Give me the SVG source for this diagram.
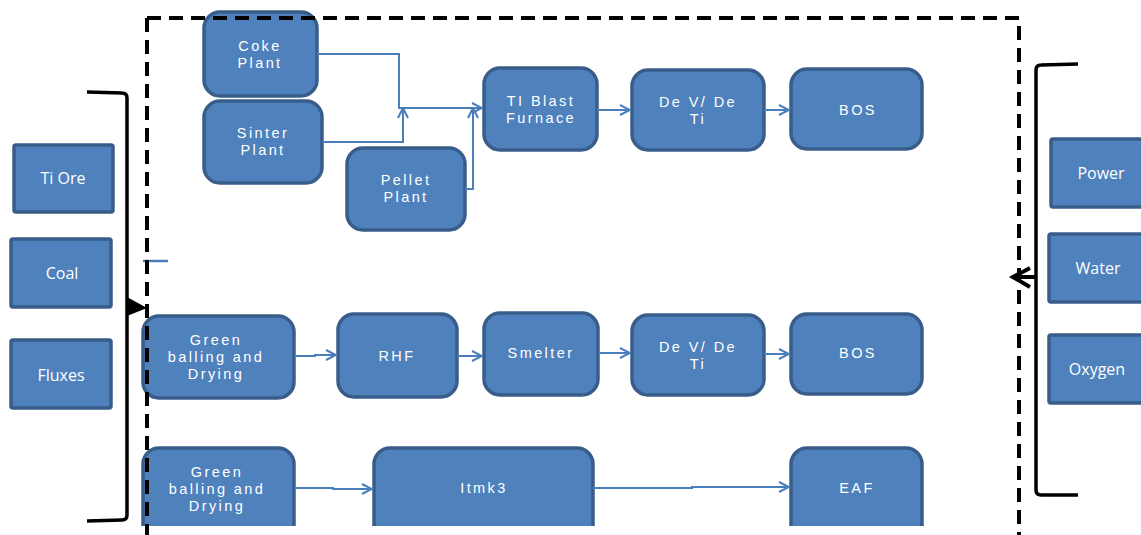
<svg xmlns="http://www.w3.org/2000/svg" width="1141" height="535" viewBox="0 0 1141 535">
<style>
.n{fill:#4F81BD;stroke:#385D8A;stroke-width:3.5}
.t{fill:#fff;font-family:"Liberation Sans",Arial,sans-serif;font-size:14.5px;letter-spacing:2.4px;text-anchor:middle}
.s{fill:#fff;font-family:"Open Sans","Liberation Sans",sans-serif;font-size:16px;text-anchor:middle}
.c{fill:none;stroke:#4A7EBB;stroke-width:2;marker-end:url(#a)}
.b{fill:none;stroke:#000;stroke-width:3.5;stroke-linejoin:round}
</style>
<defs>
<marker id="a" markerWidth="12" markerHeight="12" refX="11" refY="6" orient="auto" markerUnits="userSpaceOnUse">
<path d="M1,1 L11,6 L1,11" fill="none" stroke="#4A7EBB" stroke-width="2"/>
</marker>
<clipPath id="clipb"><rect x="0" y="0" width="1141" height="526"/></clipPath>
</defs>
<g id="inputs-left">
<g id="ti-ore"><rect class="n" x="14" y="145" width="99" height="67" rx="2"/><text class="s" x="63" y="184">Ti Ore</text></g>
<g id="coal"><rect class="n" x="11" y="239" width="100" height="68" rx="2"/><text class="s" x="62" y="279">Coal</text></g>
<g id="fluxes"><rect class="n" x="11" y="340" width="100" height="68" rx="2"/><text class="s" x="61" y="381">Fluxes</text></g>
</g>
<g id="inputs-right">
<g id="power"><rect class="n" x="1051" y="139" width="100" height="68" rx="2"/><text class="s" x="1101" y="179">Power</text></g>
<g id="water"><rect class="n" x="1049" y="234" width="100" height="68" rx="2"/><text class="s" x="1098" y="274">Water</text></g>
<g id="oxygen"><rect class="n" x="1049" y="335" width="100" height="68" rx="2"/><text class="s" x="1097" y="375">Oxygen</text></g>
</g>
<g id="coke-plant"><rect class="n" x="204" y="12" width="113" height="84" rx="16"/><text class="t" x="260" y="51">Coke</text><text class="t" x="260" y="68">Plant</text></g>
<g id="sinter-plant"><rect class="n" x="204" y="101" width="118" height="82" rx="16"/><text class="t" x="263" y="138">Sinter</text><text class="t" x="263" y="155">Plant</text></g>
<g id="pellet-plant"><rect class="n" x="347" y="148" width="118" height="82" rx="16"/><text class="t" x="406" y="185">Pellet</text><text class="t" x="406" y="202">Plant</text></g>
<g id="ti-blast-furnace"><rect class="n" x="484" y="68" width="113" height="82" rx="16"/><text class="t" x="541" y="106">TI Blast</text><text class="t" x="541" y="123">Furnace</text></g>
<g id="devdeti-1"><rect class="n" x="632" y="70" width="132" height="80" rx="16"/><text class="t" x="698" y="107">De V/ De</text><text class="t" x="698" y="124">Ti</text></g>
<g id="bos-1"><rect class="n" x="791" y="69" width="131" height="80" rx="16"/><text class="t" x="858" y="115">BOS</text></g>
<g id="green-balling-1"><rect class="n" x="143" y="316" width="151" height="82" rx="16"/><text class="t" x="216" y="345">Green</text><text class="t" x="216" y="362">balling and</text><text class="t" x="216" y="379">Drying</text></g>
<g id="rhf"><rect class="n" x="338" y="314" width="119" height="83" rx="16"/><text class="t" x="397" y="361">RHF</text></g>
<g id="smelter"><rect class="n" x="484" y="313" width="114" height="82" rx="16"/><text class="t" x="541" y="358">Smelter</text></g>
<g id="devdeti-2"><rect class="n" x="632" y="315" width="132" height="80" rx="16"/><text class="t" x="698" y="352">De V/ De</text><text class="t" x="698" y="369">Ti</text></g>
<g id="bos-2"><rect class="n" x="791" y="314" width="131" height="80" rx="16"/><text class="t" x="858" y="358">BOS</text></g>
<g clip-path="url(#clipb)">
<g id="green-balling-2"><rect class="n" x="143" y="448" width="151" height="95" rx="16"/><text class="t" x="217" y="477">Green</text><text class="t" x="217" y="494">balling and</text><text class="t" x="217" y="511">Drying</text></g>
<g id="itmk3"><rect class="n" x="374" y="448" width="219" height="95" rx="16"/><text class="t" x="484" y="493">Itmk3</text></g>
<g id="eaf"><rect class="n" x="791" y="448" width="131" height="95" rx="16"/><text class="t" x="857" y="493">EAF</text></g>
</g>
<g id="connectors">
<path class="c" d="M317,54 H399 V108 H482"/>
<path class="c" d="M322,142 H403 V108"/>
<path class="c" d="M465,189 H473 V108"/>
<path class="c" d="M597,110 H630"/>
<path class="c" d="M764,110 H789"/>
<path class="c" d="M294,356 H315 V355 H336"/>
<path class="c" d="M457,356 H482"/>
<path class="c" d="M598,353 H630"/>
<path class="c" d="M764,354 H789"/>
<path class="c" d="M294,488 H333 V489 H372"/>
<path class="c" d="M593,488 H692 V487 H789"/>
<path d="M143,261 H168" stroke="#4A7EBB" stroke-width="2.5" fill="none"/>
</g>
<g id="brackets">
<path class="b" d="M87,92 L122,93 Q127,93 127,98 L127,515 Q127,520 122,520 L87,521"/>
<path d="M127,297 L147,308 L127,316 Z" fill="#000"/>
<path class="b" d="M1078,64 L1041,65 Q1036,65 1036,70 L1036,490 Q1036,495 1041,495 L1078,495"/>
<path d="M1036,277 H1013 M1030,268 L1013,277 L1030,287" fill="none" stroke="#000" stroke-width="4"/>
</g>
<g id="boundary">
<path d="M147,18 H1019 V540 M147,18 V540" fill="none" stroke="#000" stroke-width="4" stroke-dasharray="14 8"/>
</g>
</svg>
